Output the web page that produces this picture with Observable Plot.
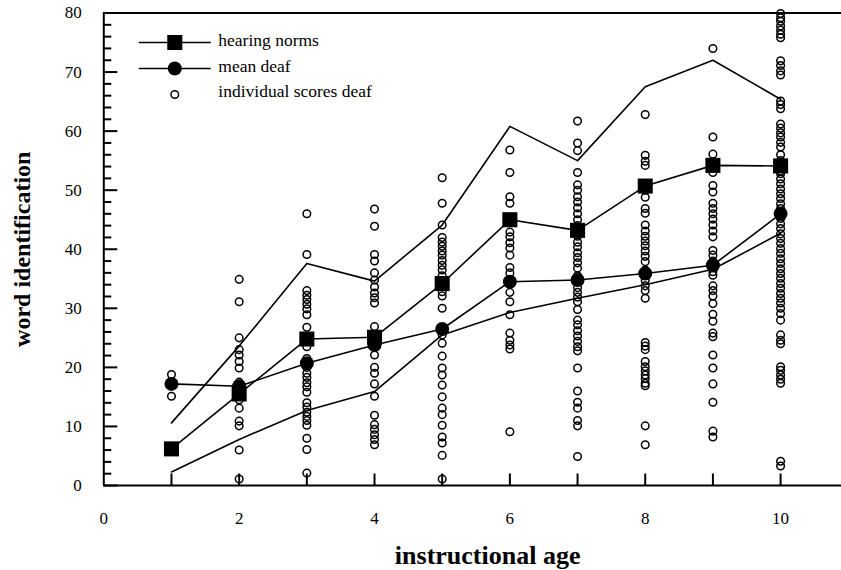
<!DOCTYPE html>
<html>
<head>
<meta charset="utf-8">
<script src="https://cdn.jsdelivr.net/npm/d3@7"></script>
<script src="https://cdn.jsdelivr.net/npm/@observablehq/plot@0.6"></script>
<style>
  html, body { margin: 0; padding: 0; background: #fff; }
  #chart svg { display: block; }
</style>
</head>
<body>
<div id="chart"></div>
<script>
// ---------- data ----------
const ages = [1, 2, 3, 4, 5, 6, 7, 8, 9, 10];
const hearingNorms = [6.2, 15.5, 24.8, 25.1, 34.2, 45.0, 43.2, 50.7, 54.2, 54.1];
const meanDeaf     = [17.2, 16.8, 20.7, 23.8, 26.5, 34.5, 34.8, 35.9, 37.3, 46.0];
const upperBand    = [10.6, 23.6, 37.6, 34.6, 44.1, 60.8, 55.0, 67.5, 72.0, 65.4];
const lowerBand    = [2.3, 7.8, 12.7, 15.9, 25.5, 29.3, 31.7, 34.0, 36.6, 42.7];

const scoresAge1 = [18.8, 15.1];
const scoresAge2 = [34.9, 31.1, 25.0, 23.0, 22.1, 21.0, 19.9, 17.5, 14.5, 13.1, 10.9, 10.1, 6.0, 1.1];
const scoresAge3 = [46.0, 39.1, 33.0, 32.2, 31.5, 30.7, 29.9, 28.9, 26.8, 25.0, 23.5, 21.5, 20.0, 19.0, 18.3, 17.4, 16.7, 15.8, 14.0, 13.3, 12.4, 11.7, 11.0, 10.2, 8.0, 6.1, 2.1];
const scoresAge4 = [46.8, 43.9, 39.1, 38.0, 36.0, 34.8, 33.6, 32.6, 31.8, 30.9, 26.9, 25.5, 24.0, 22.1, 20.0, 19.0, 17.2, 15.1, 11.9, 10.3, 9.5, 8.6, 7.8, 6.9];
const scoresAge5 = [52.1, 47.8, 44.1, 42.0, 41.2, 40.5, 39.7, 39.0, 38.1, 37.3, 36.5, 35.5, 32.8, 32.1, 30.0, 25.5, 24.1, 21.9, 19.9, 18.7, 17.0, 15.0, 13.1, 12.0, 10.2, 8.2, 7.2, 5.1, 1.1];
const scoresAge6 = [56.8, 53.0, 48.9, 47.8, 42.9, 42.1, 41.1, 40.2, 39.0, 36.9, 36.0, 32.7, 31.1, 28.9, 25.8, 24.6, 23.8, 23.1, 9.1];
const scoresAge7 = [61.7, 58.0, 56.7, 53.0, 50.9, 50.0, 48.9, 48.0, 47.0, 46.0, 45.0, 44.0, 42.2, 41.2, 40.4, 39.4, 38.6, 37.7, 36.8, 35.5, 33.5, 32.7, 31.9, 31.1, 29.8, 28.0, 27.2, 26.2, 25.3, 24.4, 23.5, 22.8, 19.9, 16.0, 14.1, 13.1, 11.0, 10.1, 4.9];
const scoresAge8 = [62.8, 55.9, 54.9, 54.2, 50.0, 48.8, 46.9, 46.1, 44.1, 43.1, 42.2, 41.4, 40.6, 39.7, 38.8, 37.9, 36.5, 34.7, 33.8, 33.0, 31.7, 24.2, 23.6, 23.0, 21.0, 20.1, 19.4, 18.7, 18.1, 17.3, 16.9, 10.1, 6.9];
const scoresAge9 = [74.0, 59.0, 56.1, 54.8, 53.0, 50.8, 49.7, 47.8, 46.9, 46.0, 45.1, 44.1, 43.1, 42.1, 39.8, 39.0, 38.0, 36.2, 35.6, 33.8, 33.0, 32.1, 30.8, 29.0, 27.8, 25.8, 25.2, 22.1, 19.9, 17.2, 14.1, 9.2, 8.2];
const scoresAge10 = [79.9, 79.2, 78.6, 77.8, 77.1, 76.4, 75.8, 71.9, 71.1, 70.2, 69.5, 65.1, 64.5, 63.8, 61.2, 60.5, 59.7, 59.0, 58.1, 57.3, 56.0, 55.0, 53.2, 52.8, 51.9, 51.1, 50.2, 49.4, 48.6, 47.7, 46.9, 45.2, 44.3, 43.5, 42.6, 41.8, 41.0, 40.1, 39.3, 38.4, 37.6, 36.7, 35.9, 35.1, 34.2, 33.4, 32.5, 31.7, 30.9, 30.0, 29.1, 28.0, 25.5, 24.6, 24.0, 20.1, 19.5, 18.7, 18.0, 17.3, 4.1, 3.3];

const xTickLabels = [0, 2, 4, 6, 8, 10];
const xMinorTicks = [1, 2, 3, 4, 5, 6, 7, 8, 9, 10];
const yTickLabels = [0, 10, 20, 30, 40, 50, 60, 70, 80];
const yMinorTicks = [2, 4, 6, 8, 12, 14, 16, 18, 22, 24, 26, 28, 32, 34, 36, 38, 42, 44, 46, 48, 52, 54, 56, 58, 62, 64, 66, 68, 72, 74, 76, 78];
const legendLabels = ["hearing norms", "mean deaf", "individual scores deaf"];
const xTitle = "instructional age";
const yTitle = "word identification";

// ---------- layout ----------
const W = 841, H = 570, ML = 103.3, MR = 0, MT = 12.5, MB = 85;
const xDomain = [0, 10.9], yDomain = [0, 80];
const pxPerX = (W - ML - MR) / (xDomain[1] - xDomain[0]);
const pxPerY = (H - MT - MB) / (yDomain[1] - yDomain[0]);
// inward tick lengths: pixels converted to data units
const xTickLen = 12 / pxPerY;
const yMajorLen = 14 / pxPerX;
const yMinorLen = 8 / pxPerX;

// ---------- derived tables ----------
const individualByAge = [scoresAge1, scoresAge2, scoresAge3, scoresAge4, scoresAge5, scoresAge6, scoresAge7, scoresAge8, scoresAge9, scoresAge10];
const individualRows = individualByAge.flatMap((arr, i) => arr.map(v => ({age: ages[i], score: v})));

const FONT = "'Liberation Serif', 'Times New Roman', Times, serif";
const legendLine = {draw(ctx) { ctx.moveTo(-36, 0); ctx.lineTo(36, 0); }};
const lineStyle = {stroke: "black", strokeWidth: 1.6};

const legendMarks = [
  Plot.dot([legendLabels[0]], {frameAnchor: "top-left", dx: 71, dy: 29.5, symbol: legendLine, stroke: "black", strokeWidth: 1.6, fill: "none"}),
  Plot.dot([legendLabels[0]], {frameAnchor: "top-left", dx: 71, dy: 29.5, symbol: "square", r: 8.5, fill: "black"}),
  Plot.dot([legendLabels[1]], {frameAnchor: "top-left", dx: 71, dy: 55.5, symbol: legendLine, stroke: "black", strokeWidth: 1.6, fill: "none"}),
  Plot.dot([legendLabels[1]], {frameAnchor: "top-left", dx: 71, dy: 55.5, symbol: "circle", r: 7, fill: "black"}),
  Plot.dot([legendLabels[2]], {frameAnchor: "top-left", dx: 71, dy: 81.5, r: 3.8, stroke: "black", strokeWidth: 1.5, fill: "none"}),
  ...legendLabels.map((t, i) => Plot.text([t], {frameAnchor: "top-left", dx: 114.5, dy: 27.5 + i * 25.5, text: d => d, textAnchor: "start", lineAnchor: "middle", fontSize: 17.5, fill: "black"}))
];

const chart = Plot.plot({
  width: W, height: H,
  marginLeft: ML, marginRight: MR, marginTop: MT, marginBottom: MB,
  x: {domain: xDomain, label: null},
  y: {domain: yDomain, label: null},
  style: {fontFamily: FONT, background: "white", color: "black", overflow: "visible"},
  marks: [
    // frame lines
    Plot.ruleY([0, 80], {stroke: "black", strokeWidth: 2}),
    Plot.ruleX([0], {stroke: "black", strokeWidth: 2}),
    // tick labels
    Plot.axisY({ticks: yTickLabels, tickSize: 0, tickPadding: 22, fontSize: 17, label: null, tickFormat: d => String(d)}),
    Plot.axisX({ticks: xTickLabels, tickSize: 0, tickPadding: 26, fontSize: 17, label: null, tickFormat: d => String(d)}),
    // inward ticks
    Plot.ruleY(yTickLabels, {y: d => d, x1: 0, x2: yMajorLen, stroke: "black", strokeWidth: 2}),
    Plot.ruleY(yMinorTicks, {y: d => d, x1: 0, x2: yMinorLen, stroke: "black", strokeWidth: 2}),
    Plot.link(xMinorTicks, {x1: d => d, x2: d => d, y1: () => 0, y2: () => xTickLen, stroke: "black", strokeWidth: 2}),
    // series lines
    Plot.line(ages, {x: d => d, y: (d, i) => upperBand[i], ...lineStyle}),
    Plot.line(ages, {x: d => d, y: (d, i) => lowerBand[i], ...lineStyle}),
    Plot.line(ages, {x: d => d, y: (d, i) => hearingNorms[i], ...lineStyle}),
    Plot.line(ages, {x: d => d, y: (d, i) => meanDeaf[i], ...lineStyle}),
    // individual scores
    Plot.dot(individualRows, {x: "age", y: "score", r: 3.8, stroke: "black", strokeWidth: 1.5, fill: "none"}),
    // markers
    Plot.dot(ages, {x: d => d, y: (d, i) => hearingNorms[i], symbol: "square", r: 8.5, fill: "black"}),
    Plot.dot(ages, {x: d => d, y: (d, i) => meanDeaf[i], symbol: "circle", r: 7, fill: "black"}),
    // legend
    ...legendMarks,
    // axis titles
    Plot.text([xTitle], {frameAnchor: "bottom", dx: 15, dy: 70, text: d => d, fontWeight: "bold", fontSize: 26, textAnchor: "middle", lineAnchor: "middle", fill: "black"}),
    Plot.text([yTitle], {frameAnchor: "left", dx: -81, rotate: -90, text: d => d, fontWeight: "bold", fontSize: 24, textAnchor: "middle", lineAnchor: "middle", fill: "black"})
  ]
});
document.getElementById("chart").appendChild(chart);
</script>
</body>
</html>
